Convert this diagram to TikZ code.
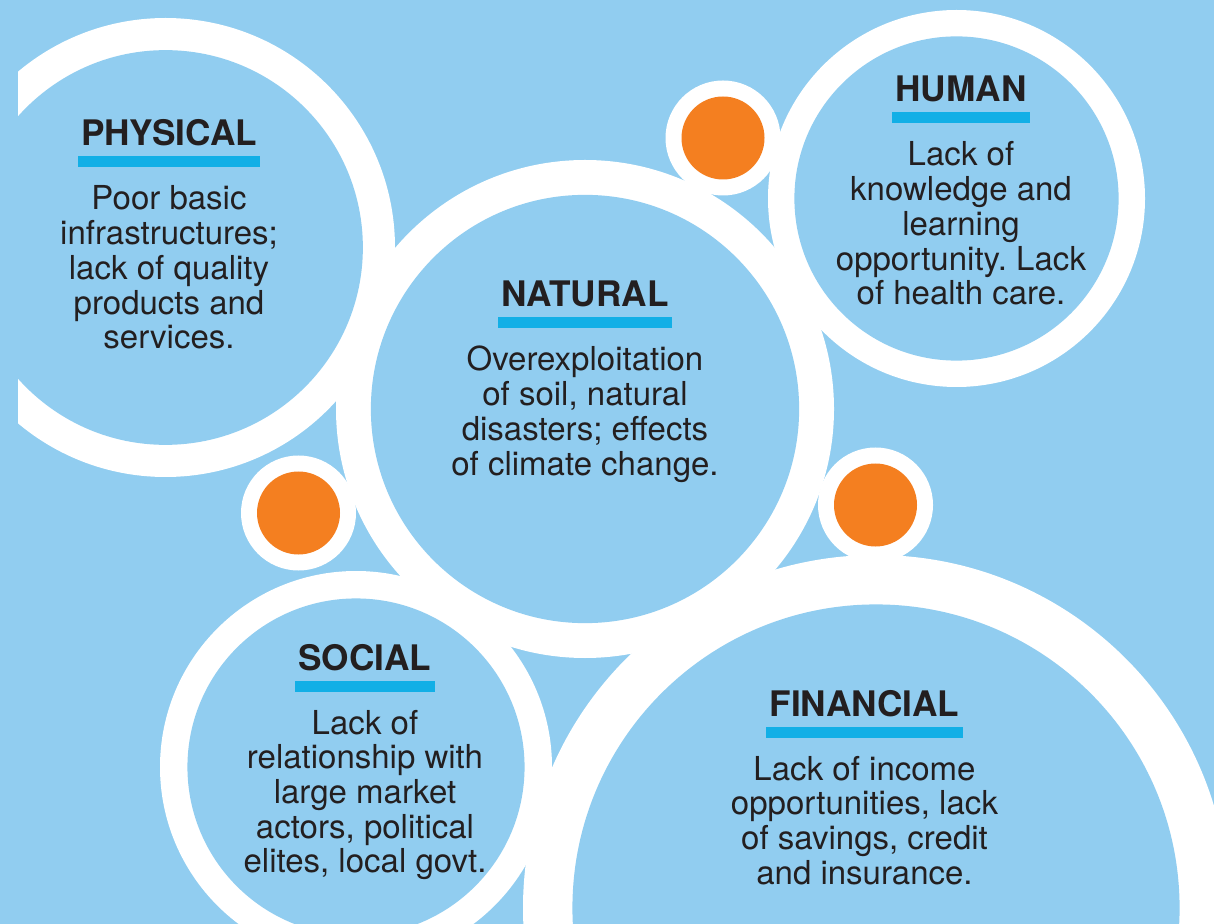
\documentclass[tikz,border=0pt]{standalone}
\usepackage{fontspec}
\setmainfont{TeX Gyre Heros}
\usetikzlibrary{calc}
\definecolor{SkyFill}{HTML}{91CDF0}
\definecolor{DotOrange}{HTML}{F47F20}
\definecolor{BarBlue}{HTML}{12AFE6}
\definecolor{InkText}{HTML}{231F20}
\colorlet{RingWhite}{white}
\frenchspacing

\tikzset{
  ring/.style={fill=RingWhite},
  disc/.style={fill=SkyFill},
  dot/.style={fill=DotOrange},
  underBar/.style={fill=BarBlue},
  title/.style={anchor=base, inner sep=0pt, text=InkText,
    font=\fontsize{17.6}{20}\selectfont\bfseries},
  bodyText/.style={anchor=base, inner sep=0pt, align=center, text=InkText,
    font=\fontsize{16.5}{17.35}\selectfont},
}

\begin{document}
\begin{tikzpicture}[x=0.5pt, y=-0.5pt]

    \def\ringRatio{0.86}
    \def\dotOuter{57.5}
    \def\dotInner{41.5}
    \def\barGap{10.5}
    \def\barHeight{11}
    \def\textDrop{64}
    \def\lineStep{34.7}

    \fill[SkyFill] (0, 0) rectangle (1214, 924);
    \useasboundingbox (0, 0) rectangle (1214, 924);

    \begin{scope}
    \clip (18, 0) rectangle (1214, 924);

    % Círculo físico

    \def\physOuter{229.5}
    \coordinate (physCenter) at (165.5, 247.5);
    \fill[ring] (physCenter) circle (\physOuter);
    \fill[disc] (physCenter) circle (\ringRatio*\physOuter);

    % Círculo natural

    \def\natOuter{249}
    \coordinate (natCenter) at (585, 409);
    \fill[ring] (natCenter) circle (\natOuter);
    \fill[disc] (natCenter) circle (\ringRatio*\natOuter);

    % Círculo humano

    \def\humOuter{188.5}
    \coordinate (humCenter) at (956.5, 198.5);
    \fill[ring] (humCenter) circle (\humOuter);
    \fill[disc] (humCenter) circle (\ringRatio*\humOuter);

    % Círculo social

    \def\socOuter{196}
    \coordinate (socCenter) at (356, 767);
    \fill[ring] (socCenter) circle (\socOuter);
    \fill[disc] (socCenter) circle (\ringRatio*\socOuter);

    % Círculo financiero

    \def\finOuter{353}
    \coordinate (finCenter) at (876, 908);
    \fill[ring] (finCenter) circle (\finOuter);
    \fill[disc] (finCenter) circle (\ringRatio*\finOuter);

    % Puntos naranjas

    \coordinate (dotTop) at (723, 138);
    \coordinate (dotLeft) at (298.5, 513);
    \coordinate (dotRight) at (875.5, 505);
    \fill[ring] (dotTop) circle (\dotOuter);
    \fill[dot] (dotTop) circle (\dotInner);
    \fill[ring] (dotLeft) circle (\dotOuter);
    \fill[dot] (dotLeft) circle (\dotInner);
    \fill[ring] (dotRight) circle (\dotOuter);
    \fill[dot] (dotRight) circle (\dotInner);

    \end{scope}

    % Títulos y textos (el ancla base cae en la última línea)

    \node[title] (physTitle) at (169, 146) {PHYSICAL};
    \node[title] (natTitle) at (585, 307) {NATURAL};
    \node[title] (humTitle) at (961, 102) {HUMAN};
    \node[title] (socTitle) at (365, 670) {SOCIAL};
    \node[title] (finTitle) at (864.5, 716) {FINANCIAL};

    \foreach \t in {physTitle, natTitle, humTitle, socTitle, finTitle}
        \fill[underBar] ($(\t.base west) + (-3, \barGap)$) rectangle ($(\t.base east) + (3, \barGap + \barHeight)$);

    \node[bodyText] (physText) at ($(physTitle.base) + (0, \textDrop + 4*\lineStep)$)
        {Poor basic\\infrastructures;\\lack of quality\\products and\\services.};
    \node[bodyText] (natText) at ($(natTitle.base) + (0, \textDrop + 3*\lineStep)$)
        {Overexploitation\\of soil, natural\\disasters; effects\\of climate change.};
    \node[bodyText] (humText) at ($(humTitle.base) + (0, \textDrop + 4*\lineStep)$)
        {Lack of\\knowledge and\\learning\\opportunity. Lack\\of health care.};
    \node[bodyText] (socText) at ($(socTitle.base) + (0, \textDrop + 4*\lineStep)$)
        {Lack of\\relationship with\\large market\\actors, political\\elites, local govt.};
    \node[bodyText] (finText) at ($(finTitle.base) + (0, \textDrop + 3*\lineStep)$)
        {Lack of income\\opportunities, lack\\of savings, credit\\and insurance.};

\end{tikzpicture}
\end{document}
